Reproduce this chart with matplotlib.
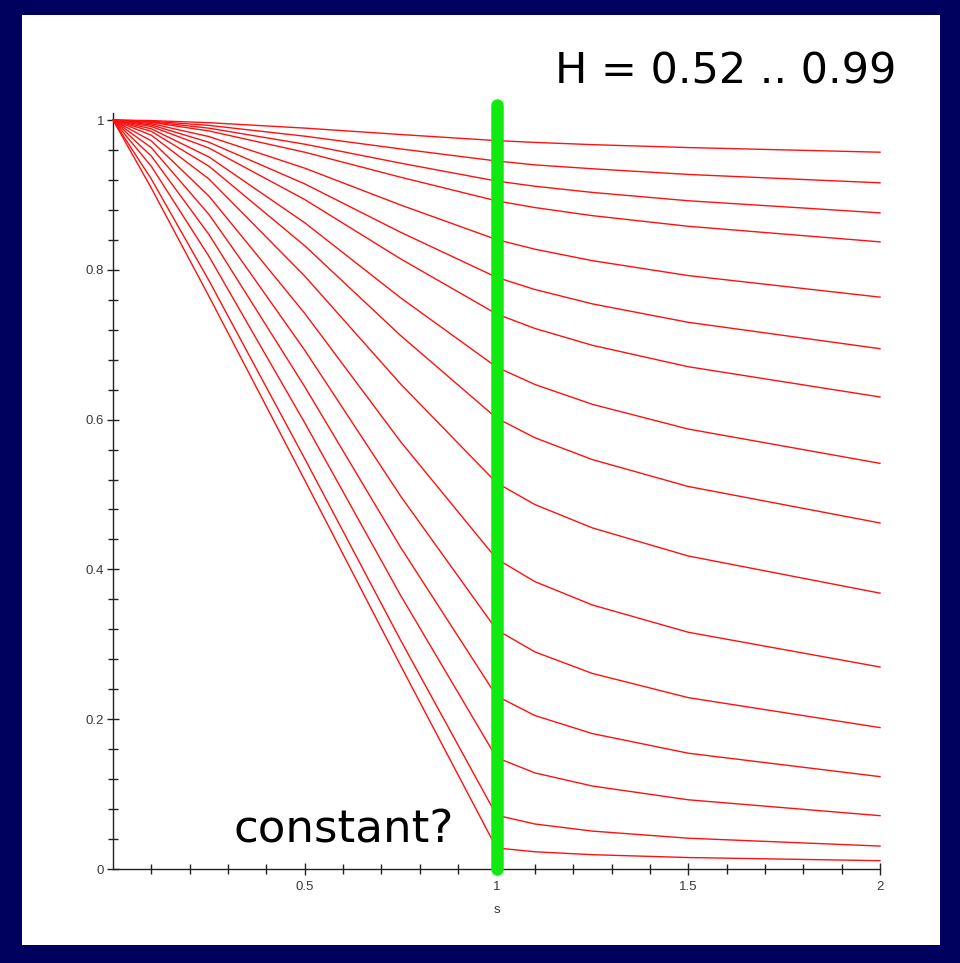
import numpy as np
import matplotlib.pyplot as plt
from matplotlib.patches import Rectangle

s = [0, 0.1, 0.25, 0.5, 0.75, 1.0, 1.1, 1.25, 1.5, 2.0]

# one curve per Hurst exponent, top to bottom
hurst = [0.99, 0.98, 0.97, 0.96, 0.94, 0.92, 0.90, 0.87,
         0.84, 0.80, 0.75, 0.70, 0.65, 0.60, 0.55, 0.52]

curves = [
    [1, 0.9992, 0.9964, 0.9892, 0.9806, 0.9725, 0.9701, 0.9671, 0.9632, 0.9570],
    [1, 0.9984, 0.9928, 0.9784, 0.9614, 0.9453, 0.9401, 0.9349, 0.9273, 0.9161],
    [1, 0.9976, 0.9891, 0.9677, 0.9424, 0.9185, 0.9116, 0.9033, 0.8922, 0.8760],
    [1, 0.9968, 0.9854, 0.9570, 0.9236, 0.8921, 0.8831, 0.8723, 0.8581, 0.8373],
    [1, 0.9951, 0.9779, 0.9357, 0.8865, 0.8404, 0.8275, 0.8122, 0.7923, 0.7635],
    [1, 0.9933, 0.9703, 0.9147, 0.8501, 0.7900, 0.7737, 0.7545, 0.7299, 0.6947],
    [1, 0.9913, 0.9626, 0.8938, 0.8146, 0.7411, 0.7217, 0.6992, 0.6706, 0.6302],
    [1, 0.9882, 0.9507, 0.8628, 0.7626, 0.6702, 0.6469, 0.6204, 0.5874, 0.5416],
    [1, 0.9848, 0.9384, 0.8321, 0.7122, 0.6021, 0.5758, 0.5466, 0.5107, 0.4620],
    [1, 0.9797, 0.9213, 0.7916, 0.6475, 0.5157, 0.4866, 0.4554, 0.4179, 0.3683],
    [1, 0.9721, 0.8985, 0.7418, 0.5705, 0.4142, 0.3837, 0.3525, 0.3161, 0.2697],
    [1, 0.9630, 0.8740, 0.6926, 0.4978, 0.3195, 0.2899, 0.2611, 0.2288, 0.1888],
    [1, 0.9518, 0.8473, 0.6439, 0.4294, 0.2311, 0.2049, 0.1808, 0.1546, 0.1233],
    [1, 0.9381, 0.8181, 0.5957, 0.3653, 0.1487, 0.1283, 0.1108, 0.0924, 0.0712],
    [1, 0.9211, 0.7858, 0.5478, 0.3054, 0.0718, 0.0601, 0.0506, 0.0411, 0.0306],
    [1, 0.9090, 0.7648, 0.5191, 0.2716, 0.0281, 0.0230, 0.0191, 0.0153, 0.0111],
]

x_ticks = [0.5, 1, 1.5, 2]
x_tick_labels = ['0.5', '1', '1.5', '2']
y_ticks = [0, 0.2, 0.4, 0.6, 0.8, 1]
y_tick_labels = ['0', '0.2', '0.4', '0.6', '0.8', '1']

marker_s = 1.0      # green bar position
marker_top = 1.02

navy = '#00005e'
W, H = 960, 963

fig = plt.figure(figsize=(W / 100, H / 100), dpi=100, facecolor=navy)
# white slide area, kept behind the axes
fig.patches.append(Rectangle((22 / W, 18 / H), (940 - 22) / W, (948 - 18) / H,
                             transform=fig.transFigure, facecolor='white',
                             edgecolor='none', zorder=-10))

ax = fig.add_axes([113 / W, 94 / H, 767 / W, 1.04 * 749 / H])
ax.patch.set_alpha(0)
ax.set_xlim(0, 2)
ax.set_ylim(0, 1.04)

for row in curves:
    ax.plot(s, row, color='#ff1010', lw=1.0, zorder=3, clip_on=False)

ax.plot([marker_s, marker_s], [0, marker_top], color='#10ea10', lw=9,
        solid_capstyle='round', zorder=5, clip_on=False)

for side in ['top', 'right']:
    ax.spines[side].set_visible(False)
ax.spines['left'].set_bounds(0, 1.01)
ax.spines['bottom'].set_bounds(0, 2)
for side in ['left', 'bottom']:
    ax.spines[side].set_color('#222222')
    ax.spines[side].set_linewidth(1.0)

ax.set_xticks(x_ticks)
ax.set_xticklabels(x_tick_labels)
ax.set_yticks(y_ticks)
ax.set_yticklabels(y_tick_labels)
ax.set_xticks(np.arange(0.1, 2.0, 0.1), minor=True)
ax.set_yticks(np.arange(0.04, 1.0, 0.04), minor=True)
ax.tick_params(which='major', direction='inout', length=9, width=1,
               color='#222222', labelcolor='#3a3a3a', labelsize=9.5, pad=2,
               labelfontfamily='Liberation Sans')
ax.tick_params(axis='x', which='major', pad=4)
ax.tick_params(which='minor', direction='inout', length=7, width=1,
               color='#222222')
ax.set_xlabel('s', fontsize=9.5, color='#3a3a3a', labelpad=8,
              family='Liberation Sans')

fig.text(896 / W, 1 - 83 / H, 'H = 0.52 .. 0.99', ha='right', va='baseline',
         fontsize=31, color='black', family='DejaVu Sans')
fig.text(233 / W, 1 - 842 / H, 'constant?', ha='left', va='baseline',
         fontsize=32.5, color='black', family='DejaVu Sans')

fig.savefig('out.png', dpi=100, facecolor=navy)
